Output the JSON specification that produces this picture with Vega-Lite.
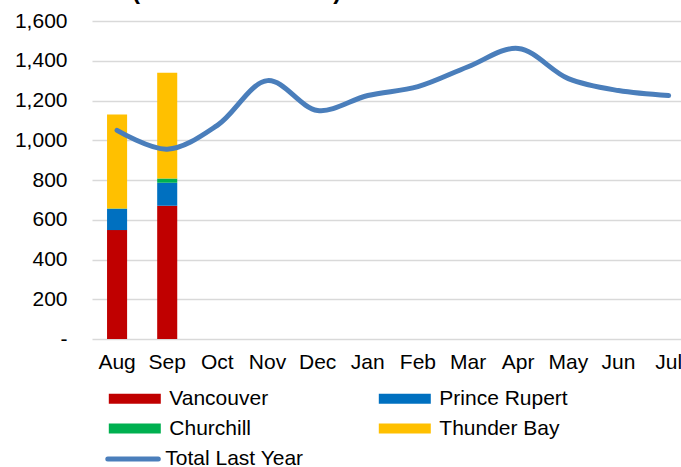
{
  "$schema": "https://vega.github.io/schema/vega-lite/v6.json",
  "autosize": {"type": "none"},
  "width": 589,
  "height": 318,
  "padding": {"left": 92, "top": 21, "right": 0, "bottom": 128},
  "background": "white",
  "config": {
    "font": "Liberation Sans",
    "view": {"stroke": null},
    "axisY": {"labelOverlap": false, "labelBound": false, "labelFontSize": 21, "labelColor": "#000000", "ticks": false, "domain": false, "labelPadding": 25, "gridColor": "#d9d9d9", "gridWidth": 1.5}
  },
  "title": {"text": "(thousand tonnes)", "anchor": "start", "frame": "group", "dx": 40, "dy": 23, "fontSize": 24, "fontWeight": "bold", "color": "#000000", "baseline": "alphabetic", "offset": 10},
  "datasets": {
    "bars": [
      {"month": "Aug", "store": "Vancouver", "value": 548},
      {"month": "Aug", "store": "Prince Rupert", "value": 107},
      {"month": "Aug", "store": "Churchill", "value": 2},
      {"month": "Aug", "store": "Thunder Bay", "value": 473},
      {"month": "Sep", "store": "Vancouver", "value": 671},
      {"month": "Sep", "store": "Prince Rupert", "value": 115},
      {"month": "Sep", "store": "Churchill", "value": 21},
      {"month": "Sep", "store": "Thunder Bay", "value": 533}
    ],
    "line": [
      {"month": "Aug", "series": "Total Last Year", "total": 1050},
      {"month": "Sep", "series": "Total Last Year", "total": 955},
      {"month": "Oct", "series": "Total Last Year", "total": 1075},
      {"month": "Nov", "series": "Total Last Year", "total": 1300},
      {"month": "Dec", "series": "Total Last Year", "total": 1150},
      {"month": "Jan", "series": "Total Last Year", "total": 1225},
      {"month": "Feb", "series": "Total Last Year", "total": 1270},
      {"month": "Mar", "series": "Total Last Year", "total": 1370},
      {"month": "Apr", "series": "Total Last Year", "total": 1462},
      {"month": "May", "series": "Total Last Year", "total": 1310},
      {"month": "Jun", "series": "Total Last Year", "total": 1250},
      {"month": "Jul", "series": "Total Last Year", "total": 1225}
    ]
  },
  "layer": [
    {
      "data": {"name": "bars"},
      "transform": [{"calculate": "indexof(['Vancouver','Prince Rupert','Churchill','Thunder Bay'], datum.store)", "as": "ord"}],
      "mark": {"type": "bar"},
      "encoding": {
        "x": {
          "field": "month", "type": "ordinal",
          "scale": {"domain": ["Aug","Sep","Oct","Nov","Dec","Jan","Feb","Mar","Apr","May","Jun","Jul"], "range": [0, 601.7], "paddingInner": 0.6, "paddingOuter": 0.3},
          "axis": {"title": null, "labelAngle": 0, "labelFontSize": 21, "labelColor": "#000000", "ticks": false, "domain": false, "grid": false, "labelPadding": 12, "labelOverlap": false}
        },
        "y": {
          "field": "value", "type": "quantitative", "stack": "zero",
          "scale": {"domain": [0, 1600], "nice": false},
          "axis": {"title": null, "values": [0,200,400,600,800,1000,1200,1400,1600], "labelExpr": "datum.value === 0 ? '-' : format(datum.value, ',')", "labelOverlap": false}
        },
        "color": {
          "field": "store", "type": "nominal",
          "scale": {"domain": ["Vancouver","Prince Rupert","Churchill","Thunder Bay"], "range": ["#c00000","#0070c0","#00b050","#ffc000"]},
          "legend": {"title": null, "orient": "none", "direction": "horizontal", "legendX": 6.3, "legendY": 367, "columns": 2, "columnPadding": 100, "rowPadding": 8, "symbolType": "M0,-1H10.4V1H0Z", "symbolSize": 100, "symbolStrokeWidth": 0, "symbolOpacity": 1, "labelFontSize": 21, "labelColor": "#000000", "labelOffset": 50, "padding": 0, "labelLimit": 300}
        },
        "order": {"field": "ord", "type": "quantitative"}
      }
    },
    {
      "data": {"name": "line"},
      "mark": {"type": "line", "interpolate": "catmull-rom", "strokeWidth": 5, "strokeCap": "round"},
      "encoding": {
        "x": {"field": "month", "type": "ordinal"},
        "y": {"field": "total", "type": "quantitative", "axis": {"title": null, "values": [0,200,400,600,800,1000,1200,1400,1600], "labelExpr": "datum.value === 0 ? '-' : format(datum.value, ',')", "labelOverlap": false}},
        "stroke": {
          "field": "series", "type": "nominal",
          "scale": {"domain": ["Total Last Year"], "range": ["#4a7ebb"]},
          "legend": {"title": null, "orient": "none", "legendX": 5.3, "legendY": 427.5, "symbolType": "M0,0H10.1", "symbolSize": 100, "symbolStrokeWidth": 5, "labelFontSize": 21, "labelColor": "#000000", "labelOffset": 47, "padding": 0, "labelLimit": 300, "encode": {"symbols": {"update": {"strokeCap": {"value": "round"}}}}}
        }
      }
    }
  ]
}
